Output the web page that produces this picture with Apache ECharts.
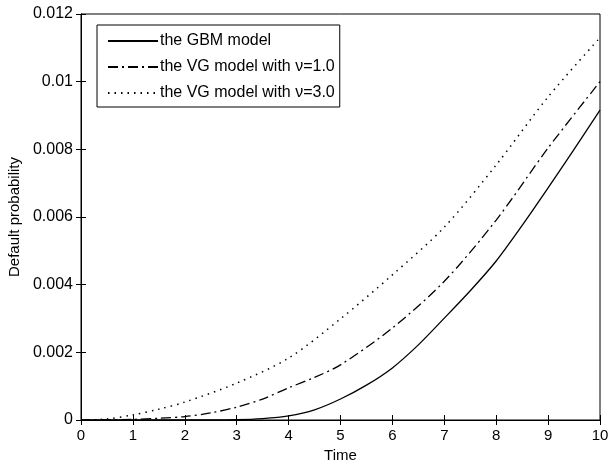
<!DOCTYPE html>
<html>
<head>
<meta charset="utf-8">
<script src="https://cdn.jsdelivr.net/npm/echarts@6/dist/echarts.min.js"></script>
<style>
html,body{margin:0;padding:0;background:#fff;}
#main{width:608px;height:466px;}
</style>
</head>
<body>
<div id="main"></div>
<script>
// values
var gbmT   = [0, 1, 2, 3, 3.5, 4, 4.5, 5, 5.5, 6, 6.5, 7, 7.5, 8, 8.5, 9, 9.5, 10];
var gbmP   = [0, 0, 0, 0.00001, 0.00004, 0.00012, 0.0003, 0.00062, 0.00103, 0.00154, 0.00222, 0.00301, 0.00382, 0.0047, 0.00575, 0.00686, 0.0080, 0.00916];
var vg1T   = [0, 1, 1.5, 2, 2.5, 3, 3.5, 4, 4.5, 5, 6, 7, 8, 9, 10];
var vg1P   = [0, 0.00002, 0.00005, 0.0001, 0.00021, 0.00038, 0.00062, 0.00095, 0.00126, 0.00163, 0.00272, 0.0041, 0.00591, 0.00804, 0.0100];
var vg3T   = [0, 0.5, 1, 1.5, 2, 3, 4, 5, 6, 7, 8, 9, 10];
var vg3P   = [0, 0.00003, 0.00015, 0.00032, 0.00053, 0.00109, 0.00183, 0.00299, 0.00429, 0.0057, 0.00754, 0.00955, 0.0113];
var names  = ['the GBM model', 'the VG model with \u03bd=1.0', 'the VG model with \u03bd=3.0'];

function pairs(t, p){
	var out = [];
	for (var i = 0; i < t.length; i++) out.push([t[i], p[i]]);
	return out;
}

var myChart = echarts.init(document.getElementById('main'));
var font = 'Liberation Sans, Arial, sans-serif';
var tickIn = {show: true, inside: true, length: 5, lineStyle: {color: '#000', width: 1}};

myChart.setOption({
	animation: false,
	backgroundColor: '#fff',
	textStyle: {fontFamily: font, color: '#000'},
	grid: {left: 81, right: 8, top: 14, bottom: 46, show: true, borderColor: '#000', borderWidth: 1,
		containLabel: false, outerBoundsMode: 'none'},
	legend: {
		orient: 'vertical',
		left: 97,
		top: 25,
		itemWidth: 50,
		itemHeight: 14,
		itemGap: 10,
		padding: [8, 5, 6, 10],
		borderColor: '#000',
		borderWidth: 1,
		backgroundColor: '#fff',
		itemStyle: {opacity: 0},
		textStyle: {fontSize: 16, color: '#000', fontFamily: font, padding: [0, 0, 0, -3]},
		data: names
	},
	xAxis: [{
		type: 'value', min: 0, max: 10, interval: 1,
		name: 'Time', nameLocation: 'middle', nameGap: 28,
		nameTextStyle: {fontSize: 15, color: '#000'},
		axisLine: {show: true, lineStyle: {color: '#000'}},
		axisTick: tickIn,
		axisLabel: {fontSize: 15, color: '#000', margin: 8},
		splitLine: {show: false}
	}, {
		type: 'value', min: 0, max: 10, interval: 1, position: 'top',
		axisLine: {show: true, lineStyle: {color: '#000'}},
		axisTick: tickIn, axisLabel: {show: false}, splitLine: {show: false}
	}],
	yAxis: [{
		type: 'value', min: 0, max: 0.012, interval: 0.002,
		name: 'Default probability', nameLocation: 'middle', nameGap: 54,
		nameTextStyle: {fontSize: 15, color: '#000'},
		axisLine: {show: true, lineStyle: {color: '#000'}},
		axisTick: tickIn,
		axisLabel: {fontSize: 16, color: '#000', margin: 8,
			formatter: function(v){ return String(+v.toFixed(3)); }},
		splitLine: {show: false}
	}, {
		type: 'value', min: 0, max: 0.012, interval: 0.002, position: 'right',
		axisLine: {show: true, lineStyle: {color: '#000'}},
		axisTick: tickIn, axisLabel: {show: false}, splitLine: {show: false}
	}],
	series: [{
		name: names[0], type: 'line', showSymbol: false, symbol: 'none', smooth: 0.3,
		data: pairs(gbmT, gbmP),
		lineStyle: {color: '#000', width: 1.3, type: 'solid'},
		itemStyle: {color: '#000'}
	}, {
		name: names[1], type: 'line', showSymbol: false, symbol: 'none', smooth: 0.3,
		data: pairs(vg1T, vg1P),
		lineStyle: {color: '#000', width: 1.3, type: [10, 4, 2, 4]},
		itemStyle: {color: '#000'}
	}, {
		name: names[2], type: 'line', showSymbol: false, symbol: 'none', smooth: 0.3,
		data: pairs(vg3T, vg3P),
		lineStyle: {color: '#000', width: 1.5, type: [1.5, 5]},
		itemStyle: {color: '#000'}
	}]
});
</script>
</body>
</html>
